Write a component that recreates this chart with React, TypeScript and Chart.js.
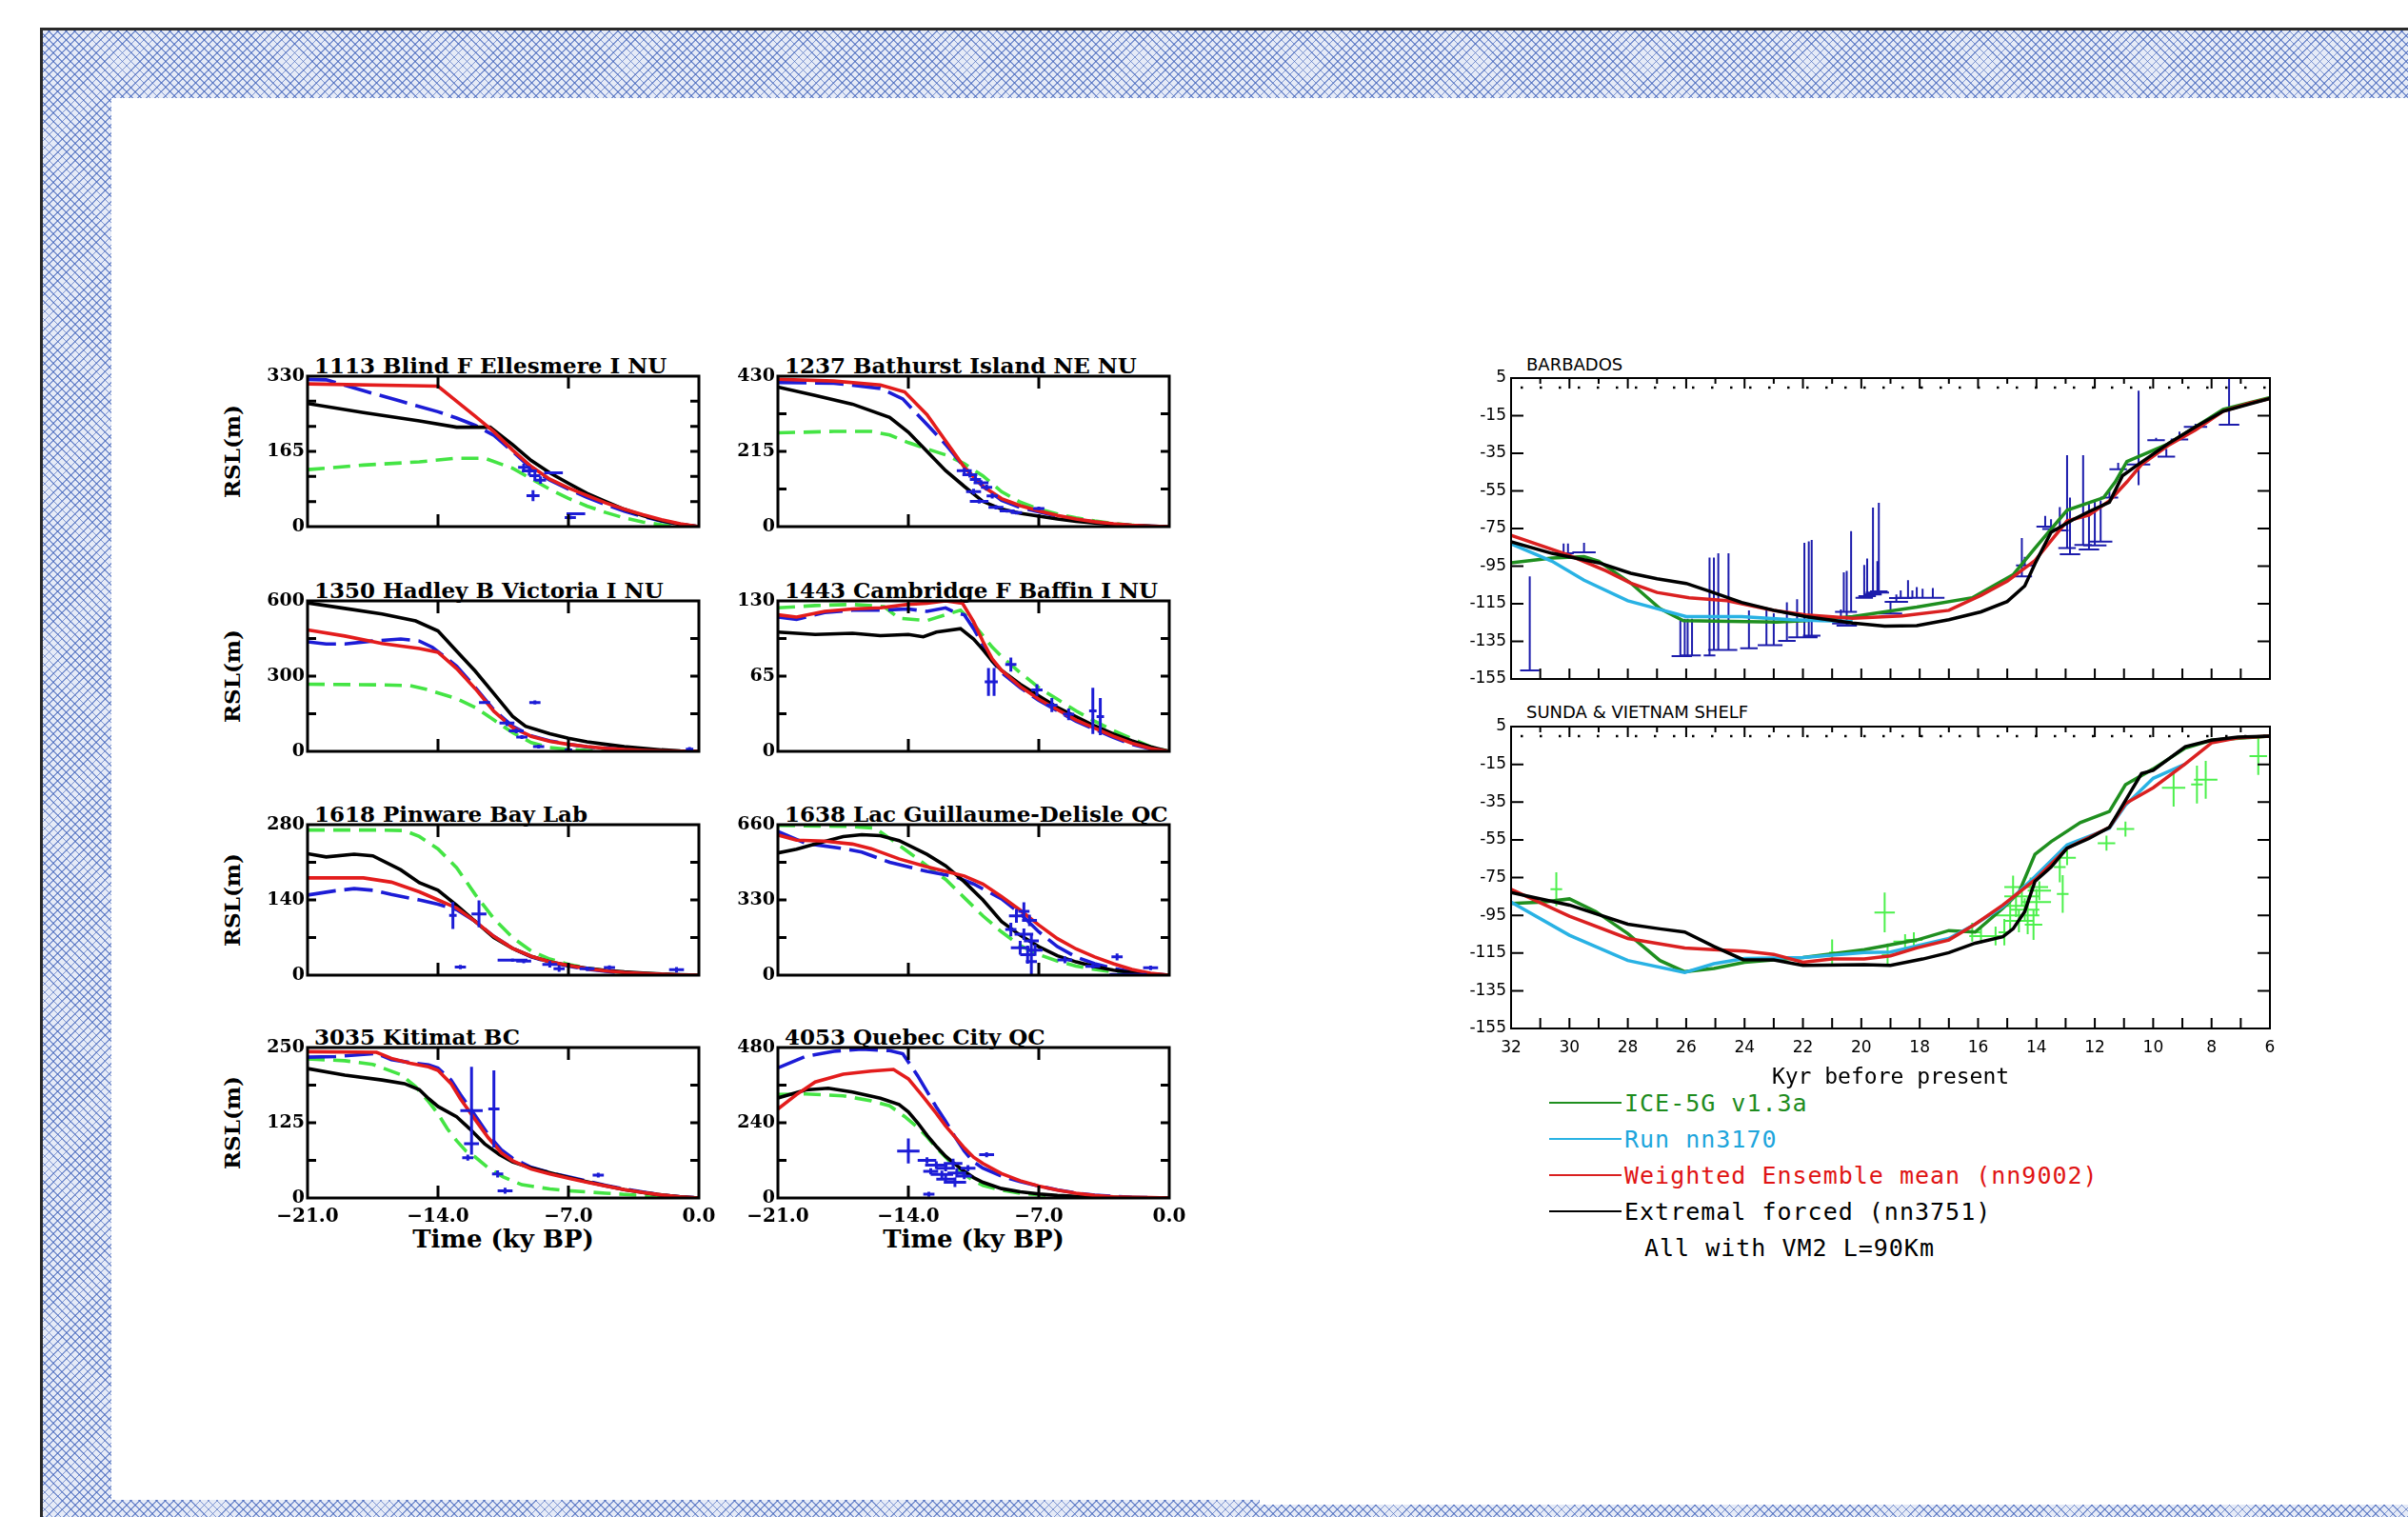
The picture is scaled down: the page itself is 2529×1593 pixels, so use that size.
import React, { useEffect, useRef } from "react";
import { Chart, registerables } from "chart.js";

Chart.register(...registerables);

type Pt = [number, number];
type Cross = [number, number, number, number]; // age, value, age error, value error
type TBar = [number, number, number, number, number]; // age, age error, bar level, low, high

// ---------------- Left panels: RSL (m) vs Time (ky BP) ----------------
const leftTitles = [
  "1113 Blind F Ellesmere I NU",
  "1237 Bathurst Island NE NU",
  "1350 Hadley B Victoria I NU",
  "1443 Cambridge F Baffin I NU",
  "1618 Pinware Bay Lab",
  "1638 Lac Guillaume-Delisle QC",
  "3035 Kitimat BC",
  "4053 Quebec City QC",
];
const leftMax = [330, 430, 600, 130, 280, 660, 250, 480];
const leftMinorDiv = [6, 4, 4, 4, 4, 4, 4, 4];
const leftXTicks = [-21, -14, -7, 0];
const leftXTickLabels = ["\u221221.0", "\u221214.0", "\u22127.0", "0.0"];

const s1113Red: Pt[] = [[-21,313],[-14,308],[-13,275],[-12,242],[-11,208],[-10,168],[-9,132],[-8,104],[-7,85],[-6,68],[-5,52],[-4,38],[-3,26],[-2,15],[-1,6],[0,0]];
const s1113Blue: Pt[] = [[-21,323],[-20,322],[-18,298],[-16,275],[-14,252],[-13,238],[-12,222],[-11,200],[-10,165],[-9,128],[-8,102],[-7,82],[-6,64],[-5,48],[-4,34],[-3,22],[-2,12],[-1,5],[0,0]];
const s1113Black: Pt[] = [[-21,270],[-18,250],[-15,232],[-13,218],[-11.2,218],[-10,180],[-9,145],[-8,118],[-7,95],[-6,73],[-5,55],[-4,38],[-3,24],[-2,13],[-1,5],[0,0]];
const s1113Green: Pt[] = [[-21,125],[-18,135],[-15,142],[-13,150],[-11.5,150],[-10,128],[-9,105],[-8,82],[-7,62],[-6,45],[-5,31],[-4,19],[-3,10],[-2,4],[-1,1],[0,0]];
const s1113Obs: Cross[] = [[-9.4,130,0.3,8],[-9.1,122,0.4,10],[-8.8,112,0.3,12],[-8.5,102,0.3,8],[-7.8,118,0.5,3],[-8.9,68,0.35,12],[-6.6,28,0.5,3],[-6.9,20,0.3,4]];

const s1237Red: Pt[] = [[-21,421],[-18,416],[-15.5,405],[-14.2,385],[-13,320],[-12,245],[-11,170],[-10,115],[-9,80],[-8,60],[-7,45],[-6,32],[-5,22],[-4,14],[-3,8],[-2,4],[-1,1.5],[0,0]];
const s1237Blue: Pt[] = [[-21,412],[-18,410],[-15.5,395],[-14.3,365],[-13,292],[-12,235],[-11,170],[-10,115],[-9,75],[-8,55],[-7,42],[-6,30],[-5,20],[-4,13],[-3,7],[-2,3],[-1,1],[0,0]];
const s1237Black: Pt[] = [[-21,399],[-19,375],[-17,350],[-15,312],[-14,270],[-13,215],[-12,160],[-11,115],[-10,72],[-9,50],[-8,38],[-7,30],[-6,22],[-5,15],[-4,10],[-3,6],[-2,3],[-1,1],[0,0]];
const s1237Green: Pt[] = [[-21,268],[-18,272],[-16,272],[-15,262],[-14,240],[-13,222],[-12,205],[-11,180],[-10,145],[-9,100],[-8,70],[-7,50],[-6,36],[-5,25],[-4,16],[-3,9],[-2,4],[-1,1],[0,0]];
const s1237Obs: Cross[] = [[-11,160,0.4,8],[-10.7,148,0.4,8],[-10.4,135,0.3,10],[-10.1,125,0.4,8],[-9.8,112,0.3,8],[-10.5,100,0.4,8],[-9.5,88,0.3,8],[-10.2,72,0.5,6],[-9.3,55,0.4,6],[-8.7,45,0.4,5],[-8.2,40,0.3,5],[-7,52,0.3,5]];

const s1350Red: Pt[] = [[-21,484],[-19,460],[-17,430],[-15,410],[-14,395],[-13,330],[-12,250],[-11,160],[-10,95],[-9,60],[-8,40],[-7,28],[-6,19],[-5,12],[-4,7],[-3,4],[-2,2],[-1,1],[0,0]];
const s1350Blue: Pt[] = [[-21,437],[-20,428],[-19,428],[-17.5,440],[-16,448],[-15,440],[-14.3,415],[-13,340],[-12,255],[-11,165],[-10,100],[-9,62],[-8,42],[-7,28],[-6,18],[-5,12],[-4,7],[-3,4],[-2,2],[-1,1],[0,0]];
const s1350Black: Pt[] = [[-21,592],[-19,570],[-17,548],[-15.2,520],[-14,480],[-13,400],[-12,320],[-11,230],[-10,140],[-9.3,100],[-8,70],[-7,52],[-6,38],[-5,28],[-4,19],[-3,12],[-2,6],[-1,2],[0,0]];
const s1350Green: Pt[] = [[-21,268],[-17,265],[-15.5,262],[-14.5,245],[-13,210],[-12,175],[-11,125],[-10,75],[-9,35],[-8,15],[-7,8],[-6,4],[-5,2],[-4,1],[0,0]];
const s1350Obs: Cross[] = [[-11.5,195,0.3,6],[-8.8,195,0.3,8],[-10.3,113,0.4,12],[-9.8,82,0.4,10],[-9.5,57,0.3,8],[-8.6,19,0.3,8],[-7,6,0.2,6],[-0.5,9,0.2,8]];

const s1443Red: Pt[] = [[-21,118],[-20,116],[-18.5,121],[-17,123],[-15.5,124],[-14,127],[-13,128],[-12,130],[-11.1,128],[-10.5,112],[-10,95],[-9.5,80],[-9,70],[-8,56],[-7,45],[-6,36],[-5,27],[-4,20],[-3,13],[-2,7],[-1,2.5],[0,0]];
const s1443Blue: Pt[] = [[-21,116],[-20,114],[-18.5,120],[-17,122],[-15.5,122],[-14,123],[-13,121],[-12,124],[-11.5,120],[-11,118],[-10.5,106],[-10,92],[-9.5,78],[-9,68],[-8,55],[-7,44],[-6,35],[-5,26],[-4,19],[-3,12],[-2,6],[-1,2],[0,0]];
const s1443Black: Pt[] = [[-21,103],[-19,101],[-17,102],[-15.5,100],[-14,101],[-13.2,99],[-12.5,103],[-11.2,106],[-10.5,97],[-10,88],[-9.5,78],[-9,70],[-8,58],[-7,48],[-6,38],[-5,30],[-4,22],[-3,15],[-2,9],[-1,4],[0,0]];
const s1443Green: Pt[] = [[-21,124],[-19,126],[-17,127],[-15.3,125],[-14.5,115],[-13,113],[-12,118],[-11.2,122],[-10.5,110],[-10,100],[-9.5,90],[-9,82],[-8,68],[-7,55],[-6,45],[-5,35],[-4,26],[-3,18],[-2,11],[-1,4],[0,0]];
const s1443Obs: Cross[] = [[-9.7,60,0.2,12],[-9.4,60,0.2,12],[-8.5,75,0.3,6],[-7.1,53,0.3,5],[-6.3,40,0.3,6],[-5.4,32,0.3,5],[-4.1,35,0.2,20],[-3.7,30,0.2,16]];

const s1618Red: Pt[] = [[-21,181],[-18,181],[-16.5,173],[-15,155],[-14,140],[-13,125],[-12,100],[-11,72],[-10,50],[-9,35],[-8,25],[-7,18],[-6,12],[-5,8],[-4,5],[-3,3],[-2,1.5],[-1,0.5],[0,0]];
const s1618Blue: Pt[] = [[-21,149],[-19.5,157],[-18.5,161],[-17.5,158],[-16.5,150],[-15,140],[-14,132],[-13,122],[-12,100],[-11,72],[-10,50],[-9,34],[-8,24],[-7,17],[-6,11],[-5,7],[-4,4],[-3,2.5],[-2,1],[-1,0.5],[0,0]];
const s1618Black: Pt[] = [[-21,226],[-20,220],[-18.5,225],[-17.5,222],[-16,196],[-15,172],[-14,158],[-13,130],[-12,100],[-11,70],[-10,50],[-9,35],[-8,25],[-7,18],[-6,13],[-5,9],[-4,6],[-3,4],[-2,2],[-1,1],[0,0]];
const s1618Green: Pt[] = [[-21,270],[-17,270],[-15.8,269],[-15,258],[-14,235],[-13,200],[-12,150],[-11,105],[-10,70],[-9,45],[-8,30],[-7,20],[-6,13],[-5,8],[-4,5],[-3,3],[-2,1.5],[-1,0.5],[0,0]];
const s1618Obs: Cross[] = [[-13.2,111,0.2,25],[-11.8,114,0.4,25],[-12.8,15,0.3,4],[-10,28,0.8,3],[-9.4,26,0.4,4],[-8,20,0.4,6],[-7.5,12,0.3,6],[-6,12,0.4,4],[-4.8,14,0.3,4],[-1.2,10,0.4,5]];

const s1638Red: Pt[] = [[-21,615],[-20,592],[-18.5,588],[-17,575],[-16,555],[-14.5,510],[-13,475],[-12,455],[-11,435],[-10,400],[-9,345],[-8,285],[-7,220],[-6,160],[-5,115],[-4,80],[-3,50],[-2,25],[-1,8],[0,0]];
const s1638Blue: Pt[] = [[-21,630],[-19.5,578],[-17.5,555],[-16.5,540],[-15,495],[-13,455],[-11.5,432],[-10.5,400],[-9,335],[-8,270],[-7,190],[-6,125],[-5,80],[-4,50],[-3,30],[-2,15],[-1,5],[0,0]];
const s1638Black: Pt[] = [[-21,536],[-20,552],[-19,575],[-17.5,608],[-16.5,616],[-15.5,612],[-14.5,590],[-13,530],[-12,480],[-11,410],[-10,330],[-9,235],[-8,175],[-7,125],[-6,85],[-5,58],[-4,38],[-3,22],[-2,11],[-1,4],[0,0]];
const s1638Green: Pt[] = [[-21,657],[-17,652],[-15.8,645],[-15,600],[-14,540],[-13,480],[-12,420],[-11,340],[-10,260],[-9,190],[-8,130],[-7,90],[-6,62],[-5,40],[-4,25],[-3,14],[-2,7],[-1,2],[0,0]];
const s1638Obs: Cross[] = [[-8.2,260,0.4,30],[-7.8,280,0.3,40],[-7.5,240,0.4,25],[-8.5,200,0.3,30],[-7.8,180,0.5,25],[-7.4,150,0.4,30],[-8,120,0.5,30],[-7.2,110,0.4,25],[-7.6,90,0.4,40],[-7.4,60,0.3,60],[-5.6,67,0.4,15],[-4.1,39,0.4,10],[-2.8,80,0.3,15],[-1,32,0.4,10],[-2.2,3,1,3]];

const s3035Red: Pt[] = [[-21,243],[-17.3,242],[-16.5,232],[-15.5,224],[-14.5,218],[-14,212],[-13.3,190],[-12.8,165],[-12,130],[-11.3,100],[-10.6,75],[-10,62],[-9,48],[-8,40],[-7,33],[-6,26],[-5,20],[-4,14],[-3,9],[-2,5],[-1,2],[0,0]];
const s3035Blue: Pt[] = [[-21,234],[-19.5,235],[-17.3,240],[-16.5,230],[-15.5,225],[-14.5,221],[-14,216],[-13.3,196],[-12.8,172],[-12,137],[-11.3,105],[-10.6,80],[-10,66],[-9,51],[-8,42],[-7,35],[-6,28],[-5,21],[-4,15],[-3,10],[-2,5],[-1,2],[0,0]];
const s3035Black: Pt[] = [[-21,215],[-19,204],[-17,196],[-15.8,190],[-15,180],[-14.5,165],[-14,152],[-13,135],[-12.3,115],[-11.5,90],[-10.7,72],[-10,60],[-9,50],[-8,42],[-7,34],[-6,27],[-5,20],[-4,14],[-3,9],[-2,5],[-1,2],[0,0]];
const s3035Green: Pt[] = [[-21,231],[-19,228],[-17.5,222],[-16,205],[-15.2,185],[-14.5,160],[-14,140],[-13.5,115],[-13,95],[-12.5,78],[-12,68],[-11.3,50],[-10.5,35],[-9.5,22],[-8,15],[-7,12],[-6,10],[-5,8],[-4,6],[-3,4],[-2,2],[-1,1],[0,0]];
const s3035Obs: Cross[] = [[-12.2,145,0.6,73],[-11,148,0.3,64],[-12.2,90,0.4,5],[-12.4,67,0.3,5],[-10.8,40,0.3,6],[-10.4,12,0.4,5],[-5.4,38,0.3,4]];

const s4053Red: Pt[] = [[-21,284],[-20,330],[-19,370],[-17.5,395],[-16,405],[-14.8,410],[-14,380],[-13.3,330],[-12.5,270],[-12,230],[-11.5,195],[-11,160],[-10.5,130],[-10,110],[-9,78],[-8,55],[-7,38],[-6,25],[-5,15],[-4,8],[-3,4],[-2,2],[-1,1],[0,0]];
const s4053Blue: Pt[] = [[-21,415],[-19.5,452],[-18,468],[-16.5,475],[-15,470],[-14.3,460],[-13.5,390],[-13,340],[-12.5,290],[-12,245],[-11.5,195],[-11,150],[-10.5,115],[-10,95],[-9,70],[-8,52],[-7,38],[-6,26],[-5,16],[-4,9],[-3,5],[-2,2],[-1,1],[0,0]];
const s4053Black: Pt[] = [[-21,319],[-19.5,345],[-18.3,350],[-17,338],[-15.5,318],[-14.5,298],[-14,275],[-13.5,240],[-13,200],[-12.5,165],[-12,133],[-11.5,108],[-11,85],[-10.5,65],[-10,50],[-9,30],[-8,20],[-7,13],[-6,8],[-5,5],[-4,3],[-3,2],[-2,1],[-1,0.5],[0,0]];
const s4053Green: Pt[] = [[-21,330],[-19.5,332],[-17.5,326],[-16,310],[-15,294],[-14.2,260],[-13.5,225],[-13,195],[-12.5,160],[-12,130],[-11.5,100],[-11,75],[-10.5,55],[-10,40],[-9,25],[-8,15],[-7,10],[-6,6],[-5,4],[-4,2],[-3,1],[0,0]];
const s4053Obs: Cross[] = [[-14,150,0.6,40],[-13,120,0.5,10],[-12.5,105,0.6,12],[-12,95,0.5,10],[-11.6,110,0.5,15],[-12.8,85,0.4,10],[-12.2,75,0.6,12],[-11.4,80,0.5,15],[-11,70,0.4,10],[-12,60,0.5,12],[-11.5,50,0.6,15],[-12.9,12,0.3,8],[-9.8,138,0.4,8],[-10.8,95,0.4,10]];

const leftRed = [s1113Red, s1237Red, s1350Red, s1443Red, s1618Red, s1638Red, s3035Red, s4053Red];
const leftBlue = [s1113Blue, s1237Blue, s1350Blue, s1443Blue, s1618Blue, s1638Blue, s3035Blue, s4053Blue];
const leftBlack = [s1113Black, s1237Black, s1350Black, s1443Black, s1618Black, s1638Black, s3035Black, s4053Black];
const leftGreen = [s1113Green, s1237Green, s1350Green, s1443Green, s1618Green, s1638Green, s3035Green, s4053Green];
const leftObs = [s1113Obs, s1237Obs, s1350Obs, s1443Obs, s1618Obs, s1638Obs, s3035Obs, s4053Obs];

// ---------------- Right panels: sea level (m) vs Kyr before present ----------------
const rightYTicks = [-155, -135, -115, -95, -75, -55, -35, -15, 5];
const rightXTicks = [32, 30, 28, 26, 24, 22, 20, 18, 16, 14, 12, 10, 8, 6];
const legendLabels = ["ICE-5G v1.3a", "Run nn3170", "Weighted Ensemble mean (nn9002)", "Extremal forced (nn3751)"];

const barbIce5g: Pt[] = [[32,-93.2],[30.6,-90.7],[29.5,-89.9],[29,-92.4],[27.9,-104],[26.9,-117.6],[26.1,-124],[22.9,-124.7],[21.9,-124],[20.3,-121.8],[18.1,-116.8],[16.2,-111.8],[14.8,-99.6],[14.05,-85.4],[12.95,-65.3],[11.7,-58.6],[11.3,-50.2],[10.9,-39.4],[9.5,-30.1],[8.55,-21],[7.6,-11.7],[6,-5.4]];
const barbRun3170: Pt[] = [[32,-83.2],[30.6,-92.4],[29.5,-102.5],[28,-113.4],[27,-117.6],[26,-121.8],[24.1,-121.8],[22.4,-123.5],[21.4,-124],[20.3,-124.4]];
const barbEnsemble: Pt[] = [[32,-78.6],[30.05,-89],[28.75,-97.5],[27.9,-104],[27,-109],[25.9,-111.8],[24.6,-113.4],[23,-118.5],[21.9,-121],[20.3,-122.7],[18.6,-121.5],[17,-118.5],[15.9,-110.5],[15,-103],[14.05,-92],[12.95,-71],[12.2,-67.8],[11.5,-60.3],[10.9,-50.2],[10.4,-41],[9.5,-31],[8.55,-22.6],[7.6,-12.6],[6.7,-8.4],[6,-5.9]];
const barbExtremal: Pt[] = [[32,-82],[30.6,-88.2],[29,-93.2],[27.9,-98.8],[27,-101.7],[26,-104.2],[25.2,-108.4],[24.1,-114.3],[23,-118.5],[21.9,-121.8],[20.3,-125.2],[19.2,-126.9],[18.1,-126.6],[17,-123.5],[15.9,-119.3],[15,-113.8],[14.4,-105.5],[14.05,-93.7],[13.5,-77],[12.75,-70.3],[12.2,-66],[11.5,-61],[11.05,-46.9],[10.6,-41.9],[9.5,-30],[8.55,-21],[7.6,-12.6],[6,-5.9]];
const barbObs: TBar[] = [
  [31.36,0.33,-150.4,-150.4,-100.5],[30.2,0.25,-88.2,-88.2,-83],[30.05,0.2,-88.2,-88.2,-83],[29.5,0.4,-87.7,-87.7,-82.6],
  [26.2,0.3,-142.9,-142.9,-124],[26.05,0.25,-142.9,-142.9,-123],[25.95,0.25,-142.5,-142.5,-123],[25.8,0.3,-142.5,-142.5,-123],
  [25.2,0.2,-142.5,-142.5,-90.4],[25.05,0.2,-139.5,-139.5,-90.4],[24.9,0.25,-139.5,-139.5,-88.2],[24.55,0.3,-139.5,-139.5,-88.2],
  [23.85,0.3,-138.7,-138.7,-118.5],[23.25,0.3,-137,-137,-117.6],[23,0.3,-137,-137,-120],[22.55,0.3,-134.8,-134.8,-114.3],[22.2,0.3,-132.8,-132.8,-112.6],
  [21.95,0.3,-132.8,-132.8,-82.6],[21.8,0.3,-132.8,-132.8,-81.8],[21.7,0.3,-132,-132,-81.1],
  [20.7,0.3,-125.5,-125.5,-118],[20.6,0.3,-119.3,-119.3,-98.3],[20.5,0.35,-126.6,-126.6,-97.5],[20.35,0.2,-119.3,-119.3,-76.4],
  [19.9,0.3,-111.8,-111.8,-94.4],[19.8,0.3,-111,-111,-91],[19.6,0.3,-110,-110,-63.8],[19.45,0.4,-109,-109,-92.4],[19.4,0.3,-108.4,-108.4,-61.3],
  [19,0.4,-120.2,-120.2,-114],[18.8,0.4,-114,-114,-110],[18.65,0.4,-112,-112,-107.9],[18.4,0.4,-111.8,-111.8,-102.5],[18.25,0.4,-111.8,-111.8,-107.9],
  [18.1,0.4,-111.8,-111.8,-106.2],[17.9,0.4,-111.8,-111.8,-107],[17.55,0.4,-111.8,-111.8,-106.7],
  [14.5,0.35,-100.4,-100.4,-80],[14.4,0.3,-94.6,-94.6,-90],[13.7,0.3,-74,-74,-68.3],[13.5,0.3,-75.3,-75.3,-70],[13.2,0.3,-76,-76,-63.6],
  [12.95,0.3,-85.4,-85.4,-36],[12.85,0.35,-88.7,-88.7,-58.6],[12.4,0.3,-83.7,-83.7,-36],[12.2,0.35,-86.2,-86.2,-62],[12,0.4,-84,-84,-60],[11.8,0.4,-82,-82,-60],
  [11.5,0.3,-58.6,-58.6,-55.3],[11.2,0.3,-43.5,-43.5,-40],[10.5,0.4,-41,-51.9,-1.7],[9.9,0.3,-28,-28,-26.8],[9.55,0.3,-36.8,-36.8,-32.7],
  [9.1,0.3,-27.6,-27.6,-23.5],[8.55,0.4,-21,-21,-19.3],[7.4,0.35,-19.8,-19.8,5.8],
];

const sundaIce5g: Pt[] = [[32,-88.8],[30.9,-88],[30,-86.3],[29.1,-93],[28,-104.7],[26.9,-119],[26.05,-124.9],[25.05,-123.2],[24,-119.9],[22,-117.4],[19.9,-113.2],[18.1,-108.1],[17,-103.1],[16.1,-103.9],[15.15,-91.3],[14.6,-82.9],[14.05,-62.7],[13.5,-56],[12.5,-45.9],[11.5,-40],[10.95,-25.8],[10,-17.4],[8.9,-6.4],[8,-2.2],[6,0]];
const sundaRun3170: Pt[] = [[32,-88],[30,-105.6],[28,-119],[26.05,-125.3],[25.05,-120.7],[24,-117.9],[22,-117.4],[19.9,-114.8],[19,-114.5],[17,-107.3],[16.1,-99.7],[15.15,-90.5],[14.05,-74.5],[12.95,-57.7],[11.5,-48.9],[10.95,-36.7],[10,-22.4],[8.9,-14.8]];
const sundaEnsemble: Pt[] = [[32,-81.2],[30,-95.5],[28,-107.3],[26.05,-112.3],[25.05,-113.2],[24,-114],[23,-115.7],[22,-119.9],[21,-118.2],[19.9,-118.2],[19,-116.5],[18.1,-112.3],[17,-108.1],[16.1,-99.7],[15.15,-89.6],[14.05,-76.2],[12.95,-59.4],[11.5,-48.4],[10.95,-35.8],[10,-27.4],[8.9,-14.8],[8,-3.6],[7.1,-0.9],[6,0]];
const sundaExtremal: Pt[] = [[32,-82.9],[30,-89.6],[28,-99.7],[26.9,-102.2],[26.05,-103.9],[25.05,-111.5],[24.05,-118.5],[23,-118.7],[22,-121.6],[19.9,-121.2],[19,-121.6],[17.9,-118.2],[17,-114.8],[16.1,-109.8],[15.15,-106.4],[14.8,-102.2],[14.4,-93],[14.05,-77],[13.5,-69.5],[12.95,-59.4],[12.2,-54.3],[11.5,-48.4],[10.95,-34.2],[10.4,-19.9],[10,-18.2],[8.9,-5.6],[8,-2.2],[7.1,-0.5],[6,0]];
const sundaObs: Cross[] = [
  [30.45,-81.2,0.2,9],[19.2,-93.5,0.35,10.5],[18.5,-109,0.4,4],[18.2,-108,0.3,4],[21,-114.8,0.1,7],[19.1,-116,0.2,6],
  [16.2,-104,0.3,5],[15.9,-106,0.4,4],[15.4,-106,0.3,5],[15.1,-104,0.2,7],[14.9,-95,0.5,8],[14.7,-90,0.4,6],[14.8,-80,0.3,6],
  [14.5,-85,0.6,5],[14.4,-92,0.5,6],[14.6,-98,0.5,6],[14.2,-80,0.6,5],[14.3,-95,0.4,10],[14.1,-100,0.3,8],[14,-88,0.5,7],[13.9,-82,0.4,5],
  [13.2,-69.5,0.2,8],[12.95,-64.5,0.3,4],[13.1,-83.7,0.2,10],[11.6,-56.8,0.3,4],[10.95,-49.3,0.3,4],[9.3,-27.4,0.4,10],
  [8.5,-25.7,0.2,10],[8.2,-23.2,0.4,10],[6.4,-10.6,0.3,10],
];

// ---------------- styling ----------------
const W = 2529, H = 1593;
const SERIF = '"DejaVu Serif", "Liberation Serif", serif';
const SANS = '"DejaVu Sans", "Liberation Sans", sans-serif';
const MONO = '"DejaVu Sans Mono", "Liberation Mono", monospace';
const C_BLUE = "#1c1cd6";
const C_RED = "#e31c1c";
const C_LGREEN = "#44e444";
const C_DGREEN = "#1f8f1f";
const C_CYAN = "#29b2e4";
const C_RRED = "#da2020";
const C_OBSBLUE = "#1c1cac";
const C_OBSGREEN = "#4cf04c";

const COL_L = [323, 817];
const COL_R = [734, 1228];
const ROW_T = [395, 631, 866, 1100];
const ROW_B = [553, 789, 1024, 1258];
const R_L = 1587, R_R = 2384;
const BARB_T = 397, BARB_B = 713, SUNDA_T = 763, SUNDA_B = 1080;

function curve(p: Pt[]) {
  return p.map(([x, y]) => ({ x, y }));
}
function crossSegs(obs: Cross[]) {
  const out: any[] = [];
  for (const [t, v, te, ve] of obs) {
    out.push({ x: t - te, y: v }, { x: t + te, y: v }, { x: t, y: null });
    out.push({ x: t, y: v - ve }, { x: t, y: v + ve }, { x: t, y: null });
  }
  return out;
}
function tbarSegs(obs: TBar[]) {
  const out: any[] = [];
  for (const [t, te, lv, lo, hi] of obs) {
    out.push({ x: t - te, y: lv }, { x: t + te, y: lv }, { x: t, y: null });
    out.push({ x: t, y: lo }, { x: t, y: hi }, { x: t, y: null });
  }
  return out;
}

type FrameOpts = {
  frameW: number;
  tickW: number;
  xBottom: number[];
  xTop: [number, number][];
  xLenB: number;
  yTicks: number[];
  yLen: number;
  zeroDots?: boolean;
};
function framePlugin(o: FrameOpts) {
  return {
    id: "frame",
    afterDatasetsDraw(chart: any) {
      const { ctx, chartArea: a } = chart;
      const xs = chart.scales.x, ys = chart.scales.y;
      ctx.save();
      ctx.strokeStyle = "#000";
      if (o.zeroDots) {
        const py = ys.getPixelForValue(0);
        ctx.lineWidth = 2.5;
        ctx.setLineDash([2.5, 17.5]);
        ctx.beginPath();
        ctx.moveTo(a.left + 10, py);
        ctx.lineTo(a.right, py);
        ctx.stroke();
        ctx.setLineDash([]);
      }
      ctx.lineWidth = o.tickW;
      ctx.beginPath();
      for (const v of o.xBottom) {
        const p = xs.getPixelForValue(v);
        ctx.moveTo(p, a.bottom);
        ctx.lineTo(p, a.bottom - o.xLenB);
      }
      for (const [v, len] of o.xTop) {
        const p = xs.getPixelForValue(v);
        ctx.moveTo(p, a.top);
        ctx.lineTo(p, a.top + len);
      }
      for (const v of o.yTicks) {
        const p = ys.getPixelForValue(v);
        ctx.moveTo(a.left, p);
        ctx.lineTo(a.left + o.yLen, p);
        ctx.moveTo(a.right, p);
        ctx.lineTo(a.right - o.yLen, p);
      }
      ctx.stroke();
      ctx.lineWidth = o.frameW;
      ctx.strokeRect(a.left, a.top, a.right - a.left, a.bottom - a.top);
      ctx.restore();
    },
  };
}

function fixScale(size: number, vertical: boolean) {
  return (s: any) => {
    if (vertical) s.width = size;
    else s.height = size;
    s.paddingLeft = 0;
    s.paddingRight = 0;
    s.paddingTop = 0;
    s.paddingBottom = 0;
  };
}

const L_LM = 72, L_RM = 36, L_TM = 16;

function leftBox(i: number) {
  const col = i % 2, row = Math.floor(i / 2);
  const bottomRow = row === 3;
  const bm = bottomRow ? 44 : 16;
  const pw = COL_R[col] - COL_L[col], ph = ROW_B[row] - ROW_T[row];
  return {
    left: COL_L[col] - L_LM,
    top: ROW_T[row] - L_TM,
    width: pw + L_LM + L_RM,
    height: ph + L_TM + bm,
    bm,
    bottomRow,
  };
}

function leftConfig(i: number) {
  const b = leftBox(i);
  const max = leftMax[i];
  const yMinor: number[] = [];
  for (let k = 1; k < leftMinorDiv[i]; k++) yMinor.push((max * k) / leftMinorDiv[i]);
  const line = { pointRadius: 0, borderWidth: 3.6, tension: 0, fill: false };
  return {
    type: "line",
    data: {
      datasets: [
        { ...line, data: crossSegs(leftObs[i]), borderColor: C_BLUE, borderWidth: 3, spanGaps: false },
        { ...line, data: curve(leftRed[i]), borderColor: C_RED },
        { ...line, data: curve(leftBlack[i]), borderColor: "#000" },
        { ...line, data: curve(leftBlue[i]), borderColor: C_BLUE, borderDash: [30, 9] },
        { ...line, data: curve(leftGreen[i]), borderColor: C_LGREEN, borderDash: [18, 9] },
      ],
    },
    options: {
      animation: false,
      responsive: false,
      events: [],
      layout: { padding: { top: L_TM, right: L_RM, left: 0, bottom: 0 } },
      plugins: { legend: { display: false }, tooltip: { enabled: false }, title: { display: false } },
      scales: {
        x: {
          type: "linear",
          min: -21,
          max: 0,
          grid: { display: false, drawTicks: false },
          border: { display: false },
          afterBuildTicks: (s: any) => { s.ticks = leftXTicks.map((v) => ({ value: v })); },
          afterFit: fixScale(b.bm, false),
          ticks: {
            display: b.bottomRow,
            autoSkip: false,
            maxRotation: 0,
            minRotation: 0,
            padding: 8,
            color: "#000",
            font: { family: SERIF, size: 20, weight: "bold" },
            callback: (v: number) => leftXTickLabels[leftXTicks.indexOf(v)] ?? String(v),
          },
        },
        y: {
          type: "linear",
          min: 0,
          max,
          grid: { display: false, drawTicks: false },
          border: { display: false },
          afterBuildTicks: (s: any) => { s.ticks = [0, max / 2, max].map((v) => ({ value: v })); },
          afterFit: fixScale(L_LM, true),
          ticks: {
            autoSkip: false,
            padding: 3,
            color: "#000",
            font: { family: SERIF, size: 19, weight: "bold" },
            callback: (v: number) => String(v),
          },
        },
      },
    },
    plugins: [
      framePlugin({
        frameW: 3,
        tickW: 3,
        xBottom: [-14, -7],
        xTop: [[-14, 13], [-7, 13]],
        xLenB: 13,
        yTicks: yMinor,
        yLen: 9,
      }),
    ],
  };
}

const R_LM = 72, R_RM = 24, R_TM = 16;

function rightBox(sunda: boolean) {
  const t = sunda ? SUNDA_T : BARB_T, bt = sunda ? SUNDA_B : BARB_B;
  const bm = sunda ? 40 : 16;
  return { left: R_L - R_LM, top: t - R_TM, width: R_R - R_L + R_LM + R_RM, height: bt - t + R_TM + bm, bm };
}

function rightConfig(sunda: boolean) {
  const b = rightBox(sunda);
  const line = { pointRadius: 0, borderWidth: 3.5, tension: 0, fill: false };
  const obs = sunda
    ? { ...line, data: crossSegs(sundaObs), borderColor: C_OBSGREEN, borderWidth: 2, spanGaps: false }
    : { ...line, data: tbarSegs(barbObs), borderColor: C_OBSBLUE, borderWidth: 2, spanGaps: false };
  const xTop: [number, number][] = [];
  const xBottom: number[] = [];
  for (let k = 7; k <= 31; k++) {
    xBottom.push(k);
    xTop.push([k, k % 2 === 0 ? 11 : 6]);
  }
  return {
    type: "line",
    data: {
      datasets: [
        { ...line, label: legendLabels[3], data: curve(sunda ? sundaExtremal : barbExtremal), borderColor: "#000" },
        { ...line, label: legendLabels[2], data: curve(sunda ? sundaEnsemble : barbEnsemble), borderColor: C_RRED },
        { ...line, label: legendLabels[1], data: curve(sunda ? sundaRun3170 : barbRun3170), borderColor: C_CYAN },
        { ...line, label: legendLabels[0], data: curve(sunda ? sundaIce5g : barbIce5g), borderColor: C_DGREEN },
        obs,
      ],
    },
    options: {
      animation: false,
      responsive: false,
      events: [],
      layout: { padding: { top: R_TM, right: R_RM, left: 0, bottom: 0 } },
      plugins: { legend: { display: false }, tooltip: { enabled: false }, title: { display: false } },
      scales: {
        x: {
          type: "linear",
          min: 6,
          max: 32,
          reverse: true,
          grid: { display: false, drawTicks: false },
          border: { display: false },
          afterBuildTicks: (s: any) => { s.ticks = rightXTicks.map((v) => ({ value: v })); },
          afterFit: fixScale(b.bm, false),
          ticks: {
            display: sunda,
            autoSkip: false,
            maxRotation: 0,
            minRotation: 0,
            padding: 10,
            color: "#000",
            font: { family: SANS, size: 17 },
            callback: (v: number) => String(v),
          },
        },
        y: {
          type: "linear",
          min: -155,
          max: 5,
          grid: { display: false, drawTicks: false },
          border: { display: false },
          afterBuildTicks: (s: any) => { s.ticks = rightYTicks.map((v) => ({ value: v })); },
          afterFit: fixScale(R_LM, true),
          ticks: {
            autoSkip: false,
            padding: 5,
            color: "#000",
            font: { family: SANS, size: 17 },
            callback: (v: number) => String(v),
          },
        },
      },
    },
    plugins: [
      framePlugin({
        frameW: 2,
        tickW: 2,
        xBottom,
        xTop,
        xLenB: 11,
        yTicks: [-135, -115, -95, -75, -55, -35, -15],
        yLen: 13,
        zeroDots: true,
      }),
    ],
  };
}

function ChartCanvas(props: { box: { left: number; top: number; width: number; height: number }; make: () => any }) {
  const ref = useRef<HTMLCanvasElement | null>(null);
  const { box, make } = props;
  useEffect(() => {
    if (!ref.current) return;
    const chart = new Chart(ref.current, make());
    return () => chart.destroy();
  }, []);
  return (
    <canvas
      ref={ref}
      width={box.width}
      height={box.height}
      style={{ position: "absolute", left: box.left, top: box.top, width: box.width, height: box.height }}
    />
  );
}

const hatch: React.CSSProperties = {
  backgroundColor: "#e6ebf7",
  backgroundImage:
    "repeating-linear-gradient(45deg, rgba(60,95,185,0.62) 0px, rgba(60,95,185,0.62) 1.3px, transparent 1.3px, transparent 6.4px), repeating-linear-gradient(-45deg, rgba(60,95,185,0.62) 0px, rgba(60,95,185,0.62) 1.3px, transparent 1.3px, transparent 6.4px)",
};

const legendColors = [C_DGREEN, C_CYAN, C_RRED, "#000"];
const legendTextColors = ["#1e8c1e", "#1ea5dc", "#e01414", "#000"];
const legendRowsY = [1158, 1196, 1234, 1272];

export default function App() {
  const abs = (s: React.CSSProperties): React.CSSProperties => ({ position: "absolute", whiteSpace: "nowrap", margin: 0, ...s });
  return (
    <div style={{ position: "absolute", left: 0, top: 0, width: W, height: H, background: "#fff", overflow: "hidden" }}>
      {/* patterned frame */}
      <div style={abs({ left: 42, top: 29, width: W - 42, height: H - 29, boxSizing: "border-box", borderTop: "3px solid #2a2a2a", borderLeft: "3px solid #2a2a2a", ...hatch })} />
      <div style={abs({ left: 117, top: 103, width: W - 117, height: 1575 - 103, background: "#fff" })} />
      <div style={abs({ left: 1323, top: 1575, width: W - 1323, height: 5, background: "#fff" })} />

      {/* left panels */}
      {leftTitles.map((t, i) => {
        const col = i % 2, row = Math.floor(i / 2);
        return (
          <div
            key={"t" + i}
            style={abs({ left: COL_L[col] + 7, top: ROW_T[row] - 23, font: `bold 23px ${SERIF}`, lineHeight: "23px", color: "#000" })}
          >
            {t}
          </div>
        );
      })}
      {[0, 1, 2, 3].map((row) => (
        <div
          key={"rsl" + row}
          style={abs({
            left: 243,
            top: (ROW_T[row] + ROW_B[row]) / 2,
            transform: "translate(-50%, -50%) rotate(-90deg)",
            font: `bold 23px ${SERIF}`,
            lineHeight: "23px",
            color: "#000",
          })}
        >
          RSL(m)
        </div>
      ))}
      {[0, 1].map((col) => (
        <div
          key={"time" + col}
          style={abs({
            left: (COL_L[col] + COL_R[col]) / 2,
            top: 1288,
            transform: "translateX(-50%)",
            font: `bold 26px ${SERIF}`,
            lineHeight: "26px",
            color: "#000",
          })}
        >
          Time (ky BP)
        </div>
      ))}
      {leftTitles.map((_, i) => (
        <ChartCanvas key={"lc" + i} box={leftBox(i)} make={() => leftConfig(i)} />
      ))}

      {/* right panels */}
      <div style={abs({ left: 1603, top: 374, font: `18px ${SANS}`, lineHeight: "18px", color: "#000" })}>BARBADOS</div>
      <div style={abs({ left: 1603, top: 739, font: `18px ${SANS}`, lineHeight: "18px", color: "#000" })}>SUNDA &amp; VIETNAM SHELF</div>
      <ChartCanvas box={rightBox(false)} make={() => rightConfig(false)} />
      <ChartCanvas box={rightBox(true)} make={() => rightConfig(true)} />
      <div
        style={abs({
          left: (R_L + R_R) / 2,
          top: 1119,
          transform: "translateX(-50%)",
          font: `23px ${MONO}`,
          lineHeight: "23px",
          color: "#000",
        })}
      >
        Kyr before present
      </div>
      {legendLabels.map((lab, i) => (
        <React.Fragment key={"lg" + i}>
          <div style={abs({ left: 1627, top: legendRowsY[i] - 1, width: 76, height: 2, background: legendColors[i] })} />
          <div
            style={abs({
              left: 1706,
              top: legendRowsY[i] - 12,
              font: `25px ${MONO}`,
              lineHeight: "25px",
              letterSpacing: "1px",
              color: legendTextColors[i],
            })}
          >
            {lab}
          </div>
        </React.Fragment>
      ))}
      <div style={abs({ left: 1727, top: 1310 - 12, font: `25px ${MONO}`, lineHeight: "25px", letterSpacing: "1px", color: "#000" })}>
        All with VM2 L=90Km
      </div>
    </div>
  );
}
